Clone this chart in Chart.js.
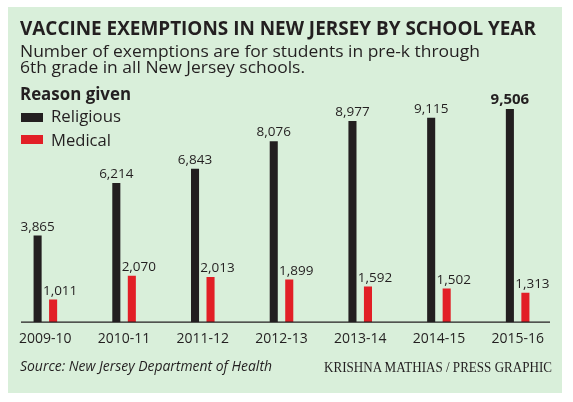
<!DOCTYPE html>
<html>
<head>
<meta charset="utf-8">
<script src="https://cdn.jsdelivr.net/npm/chart.js@4/dist/chart.umd.min.js"></script>
<style>
  body { margin: 0; width: 573px; height: 402px; background: #fff; position: relative; overflow: hidden; }
  #panel { position: absolute; left: 8px; top: 7px; width: 554px; height: 386px; background: #d9efda; }
  #chart { position: absolute; left: 0; top: 0; }
  .t { position: absolute; white-space: nowrap; color: #231f20; font-family: "Open Sans", sans-serif; line-height: 1; transform-origin: 0 0; }
  .swatch { position: absolute; left: 21px; width: 22px; height: 9px; }
</style>
</head>
<body>
<div id="panel"></div>
<canvas id="chart" width="573" height="402"></canvas>

<div class="t" data-fit="516" style="left:20px;top:18px;font-size:20px;font-weight:700;">VACCINE EXEMPTIONS IN NEW JERSEY BY SCHOOL YEAR</div>
<div class="t" data-fit="460" style="left:20px;top:43px;font-size:16.5px;">Number of exemptions are for students in pre-k through</div>
<div class="t" data-fit="285" style="left:20px;top:59px;font-size:16.5px;">6th grade in all New Jersey schools.</div>
<div class="t" data-fit="111" style="left:20px;top:85px;font-size:17px;font-weight:700;">Reason given</div>
<div class="swatch" style="top:113px;background:#231f20;"></div>
<div class="t" data-fit="70" style="left:51px;top:107px;font-size:17px;">Religious</div>
<div class="swatch" style="top:135px;background:#e21f26;"></div>
<div class="t" data-fit="60" style="left:51px;top:131px;font-size:17px;">Medical</div>
<div class="t" data-fit="252" style="left:20px;top:359px;font-size:14.5px;font-style:italic;">Source: New Jersey Department of Health</div>
<div class="t" data-fit="228" style="left:324px;top:359.5px;font-size:15px;font-family:'Liberation Serif',serif;">KRISHNA MATHIAS / PRESS GRAPHIC</div>

<script>
const years = ["2009-10", "2010-11", "2011-12", "2012-13", "2013-14", "2014-15", "2015-16"];
const religious = [3865, 6214, 6843, 8076, 8977, 9115, 9506];
const medical = [1011, 2070, 2013, 1899, 1592, 1502, 1313];

const ink = "#231f20";
const red = "#e21f26";

document.querySelectorAll("[data-fit]").forEach((el) => {
  const w = el.getBoundingClientRect().width;
  el.style.transform = "scaleX(" + (parseFloat(el.dataset.fit) / w) + ")";
});

// numbers over the bars, plus the baseline rule
const barLabels = {
  id: "barLabels",
  afterDatasetsDraw(chart) {
    const ctx = chart.ctx;
    const y0 = chart.scales.y.getPixelForValue(0);
    ctx.save();
    ctx.strokeStyle = ink;
    ctx.lineWidth = 1.2;
    ctx.beginPath();
    ctx.moveTo(21, y0);
    ctx.lineTo(550, y0);
    ctx.stroke();

    ctx.fillStyle = ink;
    ctx.textAlign = "center";
    ctx.textBaseline = "alphabetic";
    chart.data.datasets.forEach((ds, di) => {
      chart.getDatasetMeta(di).data.forEach((bar, i) => {
        const last = di === 0 && i === ds.data.length - 1;
        ctx.font = last ? "bold 15px 'Open Sans'" : "13.5px 'Open Sans'";
        const dx = di === 1 ? 7 : 0;
        ctx.fillText(ds.data[i].toLocaleString("en-US"), bar.x + dx, bar.y - 5);
      });
    });
    ctx.restore();
  },
};

new Chart(document.getElementById("chart"), {
  type: "bar",
  data: {
    labels: years,
    datasets: [
      { label: "Religious", data: religious, backgroundColor: ink },
      { label: "Medical", data: medical, backgroundColor: red },
    ],
  },
  options: {
    responsive: false,
    animation: false,
    events: [],
    categoryPercentage: 0.394,
    barPercentage: 0.52,
    layout: { padding: { top: 98, left: 6, right: 16, bottom: 47 } },
    plugins: { legend: { display: false }, tooltip: { enabled: false } },
    scales: {
      y: { display: false, min: 0, max: 10000 },
      x: {
        grid: { display: false, drawTicks: false },
        border: { display: false },
        ticks: { color: ink, padding: 8, font: { family: "Open Sans", size: 14 } },
      },
    },
  },
  plugins: [barLabels],
});
</script>
</body>
</html>
